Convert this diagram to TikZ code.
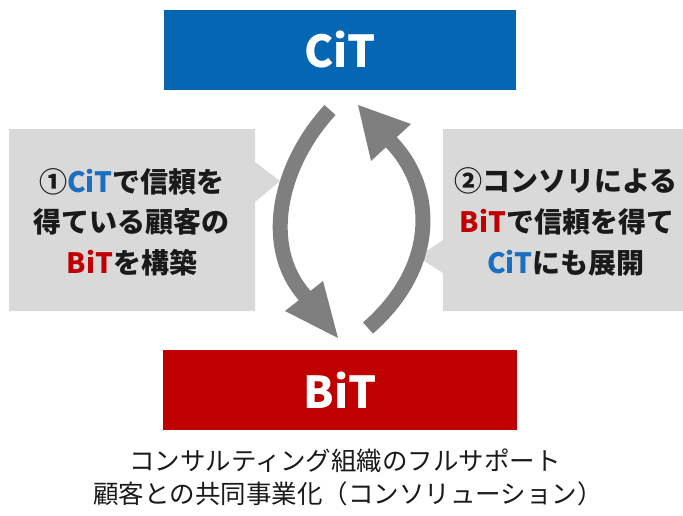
\documentclass[tikz,border=0pt]{standalone}
\usepackage{fontspec}
\setmainfont{Noto Sans CJK JP}
\definecolor{citblue}{HTML}{0566B4}
\definecolor{bitred}{HTML}{C00000}
\definecolor{txtblue}{HTML}{1C6FC0}
\definecolor{callgray}{HTML}{D9D9D9}
\definecolor{arrgray}{HTML}{7F7F7F}
\definecolor{ink}{HTML}{1A1A1A}
\begin{document}
\begin{tikzpicture}[x=1pt,y=-1pt,
  mainbox/.style={minimum width=352pt,minimum height=80pt,inner sep=0pt,text=white,font=\fontsize{44}{50}\selectfont\bfseries},
  calltext/.style={text=ink,inner sep=0pt,font=\fontsize{28}{32}\selectfont\bfseries},
  foot/.style={text=ink,inner sep=0pt,font=\fontsize{25.5}{30}\selectfont},
  shaft/.style={draw=arrgray,line width=15pt,line cap=butt},
  head/.style={fill=arrgray}]
\useasboundingbox (0,0) rectangle (683,515);
% boxes
\node[mainbox,fill=citblue] (cit) at (340,50) {CiT};
\node[mainbox,fill=bitred,minimum width=354pt] (bit) at (340,390) {BiT};
% callouts
\fill[callgray] (9,129) -- (255,129) -- (255,162) -- (280,181) -- (255,202) -- (255,311) -- (9,311) -- cycle;
\fill[callgray] (683,129) -- (443,129) -- (443,240) -- (418,257) -- (443,273) -- (443,311) -- (683,311) -- cycle;
% left text
\node[calltext] (l1) at (132,182) {①\textcolor{txtblue}{CiT}で信頼を};
\node[calltext] (l2) at (132,222) {得ている顧客の};
\node[calltext] (l3) at (132,263) {\textcolor{bitred}{BiT}を構築};
% right text
\node[calltext] (r1) at (566,181) {②コンソリによる};
\node[calltext] (r2) at (567,222) {\textcolor{bitred}{BiT}で信頼を得て};
\node[calltext] (r3) at (566,263) {\textcolor{txtblue}{CiT}にも展開};
% arrows
\coordinate (a1s) at (330,110);
\coordinate (a1e) at (309,300);
\coordinate (a2s) at (368,328);
\coordinate (a2e) at (389,140);
\draw[shaft] (a1s) .. controls (275,170) and (262,254) .. (a1e);
\fill[head] (285,311) -- (323,281) -- (338,338) -- cycle;
\draw[shaft] (a2s) .. controls (440,265) and (435,185) .. (a2e);
\fill[head] (371,161) -- (411,124) -- (358,105) -- cycle;
% footer
\node[foot] (f1) at (345,461) {コンサルティング組織のフルサポート};
\node[foot] (f2) at (348,494) {顧客との共同事業化（コンソリューション）};
\end{tikzpicture}
\end{document}
